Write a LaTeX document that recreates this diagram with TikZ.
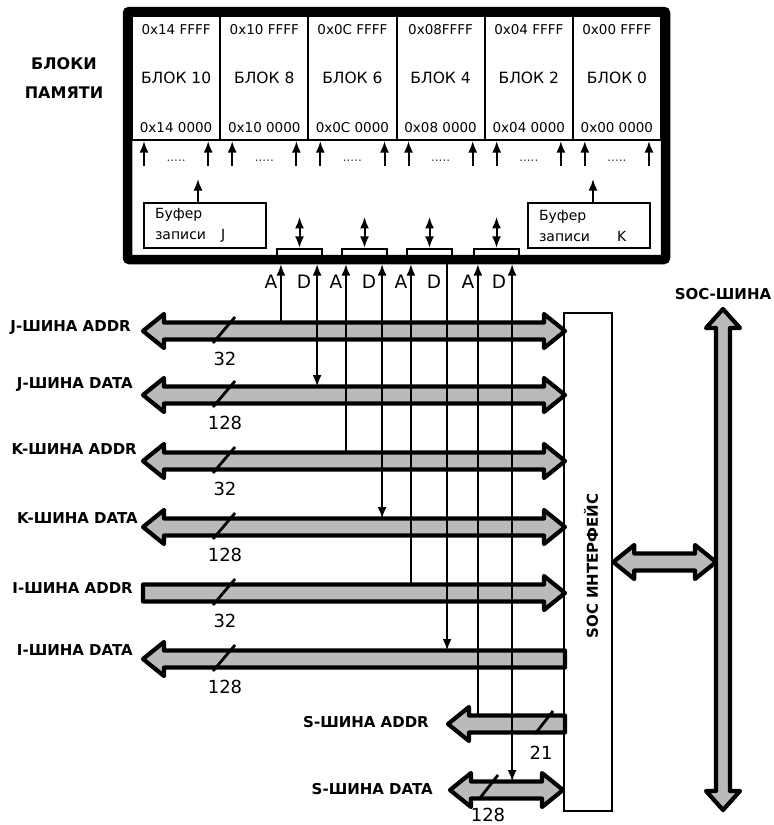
\documentclass[tikz,border=0pt]{standalone}
\usepackage{fontspec}
\setmainfont{DejaVu Sans}
\newfontfamily\buffont{DejaVu Sans}
\usepackage{tikz}
\usetikzlibrary{calc}
\usetikzlibrary{arrows.meta}
\usetikzlibrary{positioning}

\tikzset{
 frm/.style = {rectangle, draw=black, line width=9.5pt, rounded corners=2pt, inner sep=0pt},
 blk/.style = {rectangle, draw=black, line width=2pt, minimum width=88.2pt, minimum height=124pt, inner sep=0pt, font=\fontsize{15.5}{18}\selectfont},
 addr/.style = {inner sep=0pt, font=\fontsize{13.5}{15}\selectfont},
 dots/.style = {inner sep=0pt, text=black!80, font=\fontsize{12}{12}\selectfont},
 bufbox/.style = {rectangle, draw=black, line width=2pt, text width=100pt, inner xsep=11pt, minimum height=45pt, align=left, font=\buffont\fontsize{14}{21}\selectfont},
 port/.style = {rectangle, draw=black, line width=2.2pt, minimum width=45pt, minimum height=14pt, inner sep=0pt},
 socbox/.style = {rectangle, draw=black, line width=2.5pt, minimum width=48pt, minimum height=498pt, inner sep=0pt},
 sig/.style = {line width=2pt, -{Latex[length=11.5pt,width=9pt]}},
 sigboth/.style = {line width=2pt, {Latex[length=11.5pt,width=9pt]}-{Latex[length=11.5pt,width=9pt]}},
 bus/.style = {draw=black, fill=black!27, line width=4.2pt, line join=round},
 buslbl/.style = {inner sep=0pt, font=\bfseries\fontsize{15}{17}\selectfont},
 wlbl/.style = {inner sep=0pt, font=\fontsize{18}{20}\selectfont},
 adlbl/.style = {inner sep=0pt, font=\fontsize{18.5}{20}\selectfont},
 slash/.style = {line width=2.8pt}
}

% hollow buses between (#1-w) and (#1-e); (#1) is the top edge of the shaft
\newcommand{\busboth}[1]{%
 \filldraw[bus] (#1-w) -- ++(21,-17) -- ++(0,8.5) -- ($(#1-e)+(-21,-8.5)$) -- ++(0,-8.5) -- (#1-e) -- ++(-21,17) -- ++(0,-8.5) -- ($(#1-w)+(21,8.5)$) -- ++(0,8.5) -- cycle;
 \coordinate (#1) at ($(#1-w)+(0,-8.5)$);}
\newcommand{\busleft}[1]{%
 \filldraw[bus] (#1-w) -- ++(21,-17) -- ++(0,8.5) -- ($(#1-e)+(0,-8.5)$) -- ++(0,17) -- ($(#1-w)+(21,8.5)$) -- ++(0,8.5) -- cycle;
 \coordinate (#1) at ($(#1-w)+(0,-8.5)$);}
\newcommand{\busright}[1]{%
 \filldraw[bus] ($(#1-w)+(0,-8.5)$) -- ($(#1-e)+(-21,-8.5)$) -- ++(0,-8.5) -- (#1-e) -- ++(-21,17) -- ++(0,-8.5) -- ($(#1-w)+(0,8.5)$) -- cycle;
 \coordinate (#1) at ($(#1-w)+(0,-8.5)$);}

\begin{document}
\begin{tikzpicture}[x=1pt, y=-1pt]
 \useasboundingbox (0,0) rectangle (774,825);

 % memory
 \node[frm, minimum width=538pt, minimum height=248pt] (mem) at (396.5,135.5) {};
 \node[align=center, inner sep=0pt, font=\bfseries\fontsize{16}{29}\selectfont] (memlbl) at (64,78) {БЛОКИ\\ПАМЯТИ};

 \node[blk] (b10) at (176.1,78) {БЛОК 10};
 \node[blk] (b8) at (264.3,78) {БЛОК 8};
 \node[blk] (b6) at (352.4,78) {БЛОК 6};
 \node[blk] (b4) at (440.6,78) {БЛОК 4};
 \node[blk] (b2) at (528.8,78) {БЛОК 2};
 \node[blk] (b0) at (616.9,78) {БЛОК 0};

 \node[addr] (b10t) at ([yshift=-15pt]b10.north) {0x14 FFFF};
 \node[addr] (b8t) at ([yshift=-15pt]b8.north) {0x10 FFFF};
 \node[addr] (b6t) at ([yshift=-15pt]b6.north) {0x0C FFFF};
 \node[addr] (b4t) at ([yshift=-15pt]b4.north) {0x08FFFF};
 \node[addr] (b2t) at ([yshift=-15pt]b2.north) {0x04 FFFF};
 \node[addr] (b0t) at ([yshift=-15pt]b0.north) {0x00 FFFF};
 \node[addr] (b10b) at ([yshift=13pt]b10.south) {0x14 0000};
 \node[addr] (b8b) at ([yshift=13pt]b8.south) {0x10 0000};
 \node[addr] (b6b) at ([yshift=13pt]b6.south) {0x0C 0000};
 \node[addr] (b4b) at ([yshift=13pt]b4.south) {0x08 0000};
 \node[addr] (b2b) at ([yshift=13pt]b2.south) {0x04 0000};
 \node[addr] (b0b) at ([yshift=13pt]b0.south) {0x00 0000};

 \draw[sig] ([xshift=13pt,yshift=-25pt]b10.south west) -- ([xshift=13pt]b10.south west);
 \draw[sig] ([xshift=-13pt,yshift=-25pt]b10.south east) -- ([xshift=-13pt]b10.south east);
 \draw[sig] ([xshift=13pt,yshift=-25pt]b8.south west) -- ([xshift=13pt]b8.south west);
 \draw[sig] ([xshift=-13pt,yshift=-25pt]b8.south east) -- ([xshift=-13pt]b8.south east);
 \draw[sig] ([xshift=13pt,yshift=-25pt]b6.south west) -- ([xshift=13pt]b6.south west);
 \draw[sig] ([xshift=-13pt,yshift=-25pt]b6.south east) -- ([xshift=-13pt]b6.south east);
 \draw[sig] ([xshift=13pt,yshift=-25pt]b4.south west) -- ([xshift=13pt]b4.south west);
 \draw[sig] ([xshift=-13pt,yshift=-25pt]b4.south east) -- ([xshift=-13pt]b4.south east);
 \draw[sig] ([xshift=13pt,yshift=-25pt]b2.south west) -- ([xshift=13pt]b2.south west);
 \draw[sig] ([xshift=-13pt,yshift=-25pt]b2.south east) -- ([xshift=-13pt]b2.south east);
 \draw[sig] ([xshift=13pt,yshift=-25pt]b0.south west) -- ([xshift=13pt]b0.south west);
 \draw[sig] ([xshift=-13pt,yshift=-25pt]b0.south east) -- ([xshift=-13pt]b0.south east);
 \node[dots] (b10d) at ([yshift=-20pt]b10.south) {.....};
 \node[dots] (b8d) at ([yshift=-20pt]b8.south) {.....};
 \node[dots] (b6d) at ([yshift=-20pt]b6.south) {.....};
 \node[dots] (b4d) at ([yshift=-20pt]b4.south) {.....};
 \node[dots] (b2d) at ([yshift=-20pt]b2.south) {.....};
 \node[dots] (b0d) at ([yshift=-20pt]b0.south) {.....};

 % write buffers
 \node[bufbox] (bufj) at (205,225.5) {Буфер\\записи\hspace{15pt}J};
 \node[bufbox] (bufk) at (589,225.5) {Буфер\\записи\hspace{27pt}K};
 \draw[sig] ([xshift=-7pt]bufj.north) -- ([xshift=-7pt,yshift=23pt]bufj.north);
 \draw[sig] ([xshift=4pt]bufk.north) -- ([xshift=4pt,yshift=23pt]bufk.north);

 % ports
 \node[port] (p1) at (299.5,256) {};
 \node[port] (p2) at (364.5,256) {};
 \node[port] (p3) at (429.5,256) {};
 \node[port] (p4) at (496.5,256) {};
 \draw[sigboth] (p1.north) -- ([yshift=31pt]p1.north);
 \draw[sigboth] (p2.north) -- ([yshift=31pt]p2.north);
 \draw[sigboth] (p3.north) -- ([yshift=31pt]p3.north);
 \draw[sigboth] (p4.north) -- ([yshift=31pt]p4.north);

 % SOC interface
 \node[socbox] (soc) at (588,562) {};
 \node[rotate=90, inner sep=0pt, font=\bfseries\fontsize{15}{17}\selectfont] (soclbl) at (591,566) {SOC ИНТЕРФЕЙС};

 % buses
 \coordinate (jaddr-w) at (143,331); \coordinate (jaddr-e) at (565,331);
 \coordinate (jdata-w) at (143,395); \coordinate (jdata-e) at (565,395);
 \coordinate (kaddr-w) at (143,461); \coordinate (kaddr-e) at (565,461);
 \coordinate (kdata-w) at (143,527); \coordinate (kdata-e) at (565,527);
 \coordinate (iaddr-w) at (143,593); \coordinate (iaddr-e) at (565,593);
 \coordinate (idata-w) at (143,659); \coordinate (idata-e) at (565,659);
 \coordinate (saddr-w) at (448,724); \coordinate (saddr-e) at (565,724);
 \coordinate (sdata-w) at (450,790); \coordinate (sdata-e) at (563,790);
 \busboth{jaddr}
 \busboth{jdata}
 \busboth{kaddr}
 \busboth{kdata}
 \busright{iaddr}
 \busleft{idata}
 \busleft{saddr}
 \busboth{sdata}

 \draw[slash] ($(jaddr-w)+(70,12)$) -- ++(22,-26);
 \draw[slash] ($(jdata-w)+(70,12)$) -- ++(22,-26);
 \draw[slash] ($(kaddr-w)+(70,12)$) -- ++(22,-26);
 \draw[slash] ($(kdata-w)+(70,12)$) -- ++(22,-26);
 \draw[slash] ($(iaddr-w)+(70,12)$) -- ++(22,-26);
 \draw[slash] ($(idata-w)+(70,12)$) -- ++(22,-26);
 \draw[slash] ($(saddr-w)+(87,10)$) -- ++(18,-23);
 \draw[slash] ($(sdata-w)+(30,8)$) -- ++(18,-23);
 \node[wlbl] (wjaddr) at ($(jaddr-w)+(82,28)$) {32};
 \node[wlbl] (wjdata) at ($(jdata-w)+(82,28)$) {128};
 \node[wlbl] (wkaddr) at ($(kaddr-w)+(82,28)$) {32};
 \node[wlbl] (wkdata) at ($(kdata-w)+(82,28)$) {128};
 \node[wlbl] (wiaddr) at ($(iaddr-w)+(82,28)$) {32};
 \node[wlbl] (widata) at ($(idata-w)+(82,28)$) {128};
 \node[wlbl] (wsaddr) at ($(saddr-w)+(93,29)$) {21};
 \node[wlbl] (wsdata) at ($(sdata-w)+(38,25)$) {128};

 \node[buslbl, left=12pt of jaddr-w, yshift=3pt] (ljaddr) {J-ШИНА ADDR};
 \node[buslbl, left=10pt of jdata-w, yshift=10pt] (ljdata) {J-ШИНА DATA};
 \node[buslbl, left=6pt of kaddr-w, yshift=12pt] (lkaddr) {K-ШИНА ADDR};
 \node[buslbl, left=5pt of kdata-w, yshift=9pt] (lkdata) {K-ШИНА DATA};
 \node[buslbl, left=10pt of iaddr-w, yshift=5pt] (liaddr) {I-ШИНА ADDR};
 \node[buslbl, left=10pt of idata-w, yshift=9pt] (lidata) {I-ШИНА DATA};
 \node[buslbl, left=19pt of saddr-w, yshift=2pt] (lsaddr) {S-ШИНА ADDR};
 \node[buslbl, left=17pt of sdata-w, yshift=1pt] (lsdata) {S-ШИНА DATA};

 % address and data lines
 \coordinate (a1) at ([xshift=5pt]p1.south west);
 \coordinate (d1) at ([xshift=-6pt]p1.south east);
 \coordinate (a2) at ([xshift=5pt]p2.south west);
 \coordinate (d2) at ([xshift=-6pt]p2.south east);
 \coordinate (a3) at ([xshift=5pt]p3.south west);
 \coordinate (d3) at ([xshift=-6pt]p3.south east);
 \coordinate (a4) at ([xshift=5pt]p4.south west);
 \coordinate (d4) at ([xshift=-8pt]p4.south east);
 \node[adlbl] (la1) at ([xshift=-10pt,yshift=-18pt]a1) {A};
 \node[adlbl] (ld1) at ([xshift=-13pt,yshift=-18pt]d1) {D};
 \node[adlbl] (la2) at ([xshift=-10pt,yshift=-18pt]a2) {A};
 \node[adlbl] (ld2) at ([xshift=-13pt,yshift=-18pt]d2) {D};
 \node[adlbl] (la3) at ([xshift=-10pt,yshift=-18pt]a3) {A};
 \node[adlbl] (ld3) at ([xshift=-13pt,yshift=-18pt]d3) {D};
 \node[adlbl] (la4) at ([xshift=-10pt,yshift=-18pt]a4) {A};
 \node[adlbl] (ld4) at ([xshift=-13pt,yshift=-18pt]d4) {D};
 \draw[sig] (a1 |- jaddr) -- (a1);
 \draw[sigboth] (d1) -- (d1 |- jdata);
 \draw[sig] (a2 |- kaddr) -- (a2);
 \draw[sigboth] (d2) -- (d2 |- kdata);
 \draw[sig] (a3 |- iaddr) -- (a3);
 \draw[sig] (d3) -- (d3 |- idata);
 \draw[sig] (a4 |- saddr) -- (a4);
 \draw[sigboth] (d4) -- (d4 |- sdata);

 % SOC bus
 \coordinate (sbus-n) at (723,309);
 \coordinate (sbus-s) at (723,810);
 \filldraw[bus] (sbus-n) -- ++(17,19) -- ++(-10,0) -- ($(sbus-s)+(7,-19)$) -- ++(10,0) -- (sbus-s) -- ++(-17,-19) -- ++(10,0) -- ($(sbus-n)+(-7,19)$) -- ++(-10,0) -- cycle;
 \node[buslbl, above=9pt of sbus-n] (lsbus) {SOC-ШИНА};
 \coordinate (link-w) at (soc.east);
 \coordinate (link-e) at ($(sbus-n |- soc.east)+(-7,0)$);
 \busboth{link}
\end{tikzpicture}
\end{document}
